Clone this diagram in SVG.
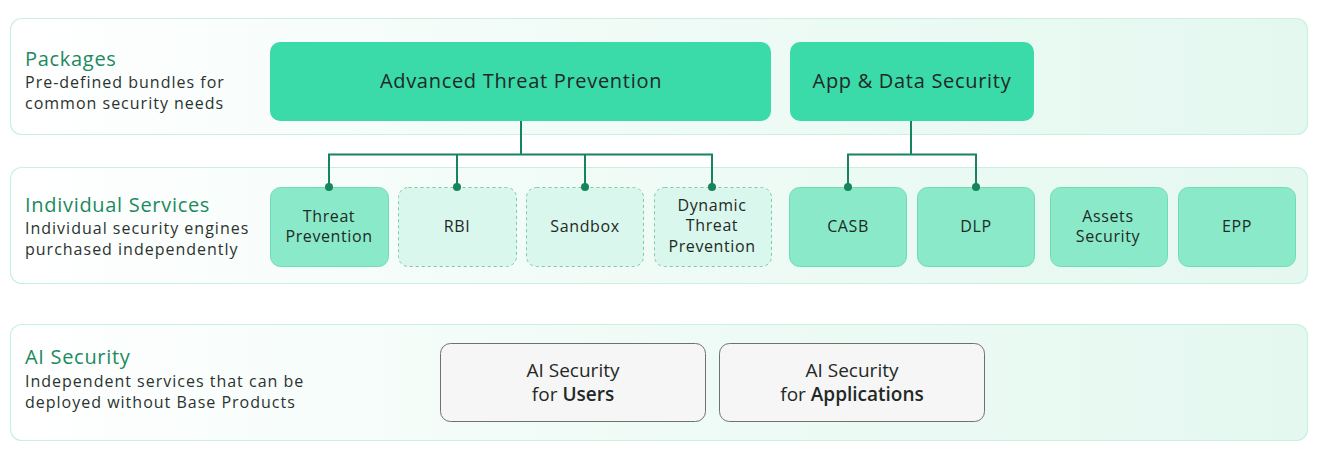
<svg xmlns="http://www.w3.org/2000/svg" width="1319" height="468" viewBox="0 0 1319 468">
<defs>
<linearGradient id="band" x1="0" y1="0" x2="1" y2="0">
<stop offset="0" stop-color="#ffffff"/>
<stop offset="0.35" stop-color="#f3fcf8"/>
<stop offset="1" stop-color="#e4f8f0"/>
</linearGradient>
<style>
text{font-family:"Open Sans","Liberation Sans",sans-serif;}
.band{fill:url(#band);stroke:#c9f1e2;stroke-width:1.2;}
.title{font-size:20px;fill:#1b8a5e;letter-spacing:0.7px;}
.sub{font-size:16px;fill:#2b3330;letter-spacing:1px;}
.pkg{fill:#3bdaa9;}
.svc{fill:#89e9c9;stroke:#6fdcb6;stroke-width:1;}
.opt{fill:#d9f7ec;stroke:#7dc9aa;stroke-width:1;stroke-dasharray:3 3;}
.ai{fill:#f6f6f6;stroke:#707070;stroke-width:1;}
.lbl{font-size:20px;fill:#1f2926;text-anchor:middle;letter-spacing:0.7px;}
.ail{font-size:19px;fill:#1f2926;text-anchor:middle;}
.sl{font-size:16px;fill:#1f2926;text-anchor:middle;letter-spacing:0.6px;}
.b{font-weight:600;}
.conn{fill:none;stroke:#17845c;stroke-width:2;}
.dot{fill:#17845c;}
</style>
</defs>
<rect width="1319" height="468" fill="#ffffff"/>
<g id="bands">
<rect class="band" x="10.5" y="18.5" width="1297" height="116" rx="11"/>
<rect class="band" x="10.5" y="167.5" width="1297" height="116" rx="11"/>
<rect class="band" x="10.5" y="324.5" width="1297" height="116" rx="11"/>
</g>
<g id="band-labels">
<text class="title" x="25" y="66">Packages</text>
<text class="sub" x="25" y="88">Pre-defined bundles for</text>
<text class="sub" x="25" y="109">common security needs</text>
<text class="title" x="25" y="212">Individual Services</text>
<text class="sub" x="25" y="234">Individual security engines</text>
<text class="sub" x="25" y="255">purchased independently</text>
<text class="title" x="25" y="364">AI Security</text>
<text class="sub" x="25" y="387">Independent services that can be</text>
<text class="sub" x="25" y="408">deployed without Base Products</text>
</g>
<g id="node-atp">
<rect class="pkg" x="270" y="42" width="501" height="79" rx="10"/>
<text class="lbl" x="521" y="88">Advanced Threat Prevention</text>
</g>
<g id="node-ads">
<rect class="pkg" x="790" y="42" width="244" height="79" rx="10"/>
<text class="lbl" x="912" y="88">App &amp; Data Security</text>
</g>
<g id="node-tp">
<rect class="svc" x="270.5" y="187.5" width="118" height="79" rx="10"/>
<text class="sl" x="329" y="222">Threat</text>
<text class="sl" x="329" y="242">Prevention</text>
</g>
<g id="node-rbi">
<rect class="opt" x="398.5" y="187.5" width="118" height="79" rx="10"/>
<text class="sl" x="457" y="232">RBI</text>
</g>
<g id="node-sandbox">
<rect class="opt" x="526.5" y="187.5" width="117" height="79" rx="10"/>
<text class="sl" x="585" y="232">Sandbox</text>
</g>
<g id="node-dtp">
<rect class="opt" x="654.5" y="187.5" width="117" height="79" rx="10"/>
<text class="sl" x="712" y="211">Dynamic</text>
<text class="sl" x="712" y="231">Threat</text>
<text class="sl" x="712" y="252">Prevention</text>
</g>
<g id="node-casb">
<rect class="svc" x="789.5" y="187.5" width="117" height="79" rx="10"/>
<text class="sl" x="848" y="232">CASB</text>
</g>
<g id="node-dlp">
<rect class="svc" x="917.5" y="187.5" width="117" height="79" rx="10"/>
<text class="sl" x="976" y="232">DLP</text>
</g>
<g id="node-assets">
<rect class="svc" x="1050.5" y="187.5" width="117" height="79" rx="10"/>
<text class="sl" x="1108" y="222">Assets</text>
<text class="sl" x="1108" y="242">Security</text>
</g>
<g id="node-epp">
<rect class="svc" x="1178.5" y="187.5" width="117" height="79" rx="10"/>
<text class="sl" x="1237" y="232">EPP</text>
</g>
<g id="node-ai-users">
<rect class="ai" x="440.5" y="343.5" width="265" height="78" rx="10"/>
<text class="ail" x="573" y="377">AI Security</text>
<text class="ail" x="573" y="401">for <tspan class="b">Users</tspan></text>
</g>
<g id="node-ai-apps">
<rect class="ai" x="719.5" y="343.5" width="265" height="78" rx="10"/>
<text class="ail" x="852" y="377">AI Security</text>
<text class="ail" x="852" y="401">for <tspan class="b">Applications</tspan></text>
</g>
<g id="connectors">
<path class="conn" d="M521 121V154.5M329 187V154.5H712V187M457 154.5V187M585 154.5V187"/>
<path class="conn" d="M911 121V154.5M848 187V154.5H976V187"/>
<circle class="dot" cx="329" cy="187" r="4"/>
<circle class="dot" cx="457" cy="187" r="4"/>
<circle class="dot" cx="585" cy="187" r="4"/>
<circle class="dot" cx="712" cy="187" r="4"/>
<circle class="dot" cx="848" cy="187" r="4"/>
<circle class="dot" cx="976" cy="187" r="4"/>
</g>
</svg>
